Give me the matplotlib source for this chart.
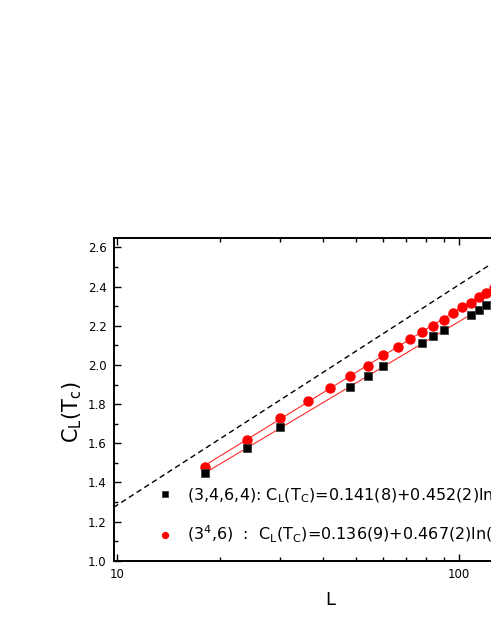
import numpy as np
import matplotlib
matplotlib.use("Agg")
import matplotlib.pyplot as plt
from matplotlib.ticker import FixedLocator, FuncFormatter, NullFormatter, LogLocator


# ── Data ────────────────────────────────────────────────────────────────

# (3^4,6) lattice, red circles
L_red = [18, 24, 30, 36, 42, 48, 54, 60, 66, 72, 78, 84, 90, 96, 102, 108, 114, 120, 126]
C_red = [1.480, 1.616, 1.727, 1.815, 1.880, 1.944, 1.997, 2.051, 2.092, 2.131,
         2.168, 2.201, 2.232, 2.267, 2.296, 2.318, 2.345, 2.369, 2.395]

# (3,4,6,4) lattice, black squares
L_blk = [18, 24, 30, 48, 54, 60, 78, 84, 90, 108, 114, 120]
C_blk = [1.446, 1.577, 1.684, 1.888, 1.944, 1.993, 2.114, 2.148, 2.176, 2.257, 2.283, 2.308]

# fit lines (end points) and the dashed reference line
fit_L = [18, 130]
fit_blk = [1.447, 2.341]
fit_red = [1.486, 2.409]
dash_L = [9.75, 130]
dash_C = [1.272, 2.539]

label_blk = r"(3,4,6,4): $\mathregular{C_L(T_C)}$=0.141(8)+0.452(2)ln(L)"
label_red = r"($\mathregular{3^4}$,6)  :  $\mathregular{C_L(T_C)}$=0.136(9)+0.467(2)ln(L)"

y_ticks = [1.0, 1.2, 1.4, 1.6, 1.8, 2.0, 2.2, 2.4, 2.6]

plt.rcParams["font.family"] = ["DejaVu Sans"]
plt.rcParams["mathtext.fontset"] = "dejavusans"

fig = plt.figure(figsize=(4.91, 6.35), dpi=100)
# axes run past the right edge of the picture, as in the reference
ax = fig.add_axes([0.2312, 0.1170, 0.9139, 0.5087])
ax.set_xscale("log")

ax.plot(fit_L, fit_red, color="#ff2a2a", lw=0.8, zorder=2)
ax.plot(fit_L, fit_blk, color="#ff2a2a", lw=0.8, zorder=2)
ax.plot(dash_L, dash_C, color="black", lw=1.0, dashes=(4.0, 2.6), zorder=2)

h_blk, = ax.plot(L_blk, C_blk, ls="none", marker="s", ms=5.8, color="black",
                 mec="#404040", mew=0.6, zorder=4, label=label_blk)
h_red, = ax.plot(L_red, C_red, ls="none", marker="o", ms=6.5, color="red",
                 mec="red", zorder=3, label=label_red)

ax.set_xlim(9.75, 200)
ax.set_ylim(1.0, 2.65)

ax.yaxis.set_major_locator(FixedLocator(y_ticks))
ax.yaxis.set_minor_locator(FixedLocator([v + 0.1 for v in y_ticks]))
ax.yaxis.set_major_formatter(FuncFormatter(lambda v, p: f"{v:.1f}"))
ax.xaxis.set_major_locator(LogLocator(base=10))
ax.xaxis.set_minor_locator(LogLocator(base=10, subs=np.arange(2, 10)))
ax.xaxis.set_major_formatter(FuncFormatter(lambda v, p: f"{v:g}"))
ax.xaxis.set_minor_formatter(NullFormatter())

for s in ax.spines.values():
    s.set_linewidth(1.4)
ax.tick_params(which="both", direction="in", top=True, right=True, width=1.0)
ax.tick_params(which="major", length=5.2, pad=5, labelsize=8.5)
ax.tick_params(which="minor", length=2.9)

fig.text(72 / 491, 1 - 412 / 635, r"$\mathregular{C_L(T_c)}$", rotation=90,
         ha="center", va="center", fontsize=15)
fig.text(330 / 491, 1 - 600 / 635, "L", ha="center", va="center", fontsize=13)

ax.legend(handles=[h_blk, h_red], loc="center left", frameon=False,
          bbox_to_anchor=(157 / 491, 1 - 515.5 / 635), bbox_transform=fig.transFigure,
          borderaxespad=0, borderpad=0, handlelength=1.0, handletextpad=0.85,
          labelspacing=1.2, numpoints=1, markerscale=0.65, fontsize=11.5)

fig.savefig("out.png", dpi=100)
